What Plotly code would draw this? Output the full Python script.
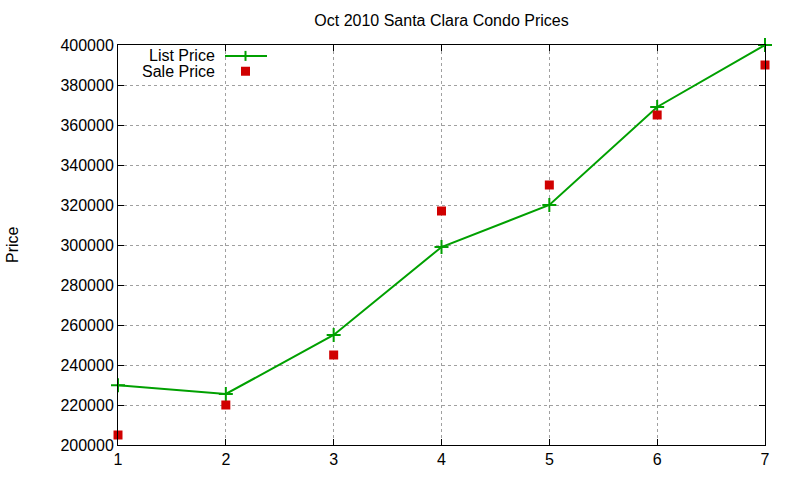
import plotly.graph_objects as go

months = [1, 2, 3, 4, 5, 6, 7]
list_price = [229900, 225500, 255000, 299000, 320000, 369000, 400000]
sale_price = [205000, 220000, 245000, 317000, 330000, 365000, 390000]
y_ticks = [200000, 220000, 240000, 260000, 280000, 300000, 320000, 340000, 360000, 380000, 400000]

GREEN = "#00a000"
RED = "#d00000"
FONT = dict(family="Liberation Sans, Arial, sans-serif", size=16, color="#000000")

FIG_W, FIG_H = 800, 480
L, T, R, B = 118, 45, 35, 31

fig = go.Figure()
fig.add_trace(go.Scatter(
    x=months, y=list_price, mode="lines+markers", name="List Price",
    line=dict(color=GREEN, width=2),
    marker=dict(symbol="cross-thin", size=10, line=dict(color=GREEN, width=2)),
    cliponaxis=False, showlegend=False))
fig.add_trace(go.Scatter(
    x=months, y=sale_price, mode="markers", name="Sale Price",
    marker=dict(symbol="square", size=9, color=RED),
    cliponaxis=False, showlegend=False))

axis_common = dict(
    showline=True, linecolor="black", linewidth=1, mirror="allticks",
    ticks="inside", ticklen=6, tickcolor="black", tickwidth=1,
    showgrid=True, gridcolor="#a0a0a0", gridwidth=1, griddash="3px,3px",
    zeroline=False, tickfont=FONT)

fig.update_xaxes(range=[1, 7], tickvals=months, **axis_common)
fig.update_yaxes(range=[200000, 400000], tickvals=y_ticks, tickformat="d", **axis_common)

# Legend (gnuplot style: text right-aligned, sample on the right), in page pixels
W, H = 800.0 - L - R, 480.0 - T - B
def px(x):
    return (x - L) / W
def py(y):
    return (480 - B - y) / H

annotations = [
    dict(text="List Price", x=px(217), y=py(56), xref="paper", yref="paper",
         xanchor="right", yanchor="middle", showarrow=False, font=FONT),
    dict(text="Sale Price", x=px(217), y=py(71.5), xref="paper", yref="paper",
         xanchor="right", yanchor="middle", showarrow=False, font=FONT),
    dict(text="Price", x=px(12), y=0.5, xref="paper", yref="paper",
         xanchor="center", yanchor="middle", textangle=-90, showarrow=False, font=FONT),
]
shapes = [
    dict(type="line", xref="paper", yref="paper", x0=px(225), x1=px(267), y0=py(56), y1=py(56),
         line=dict(color=GREEN, width=2)),
    dict(type="line", xref="paper", yref="paper", xsizemode="pixel", ysizemode="pixel",
         xanchor=px(245.5), yanchor=py(56), x0=0, x1=0, y0=-5, y1=5,
         line=dict(color=GREEN, width=2)),
    dict(type="rect", xref="paper", yref="paper", xsizemode="pixel", ysizemode="pixel",
         xanchor=px(245.5), yanchor=py(71.5), x0=-4.5, x1=4.5, y0=-4.5, y1=4.5,
         fillcolor=RED, line=dict(width=0)),
]

fig.update_layout(
    width=FIG_W, height=FIG_H,
    margin=dict(l=L, r=R, t=T, b=B),
    paper_bgcolor="white", plot_bgcolor="white",
    font=FONT,
    title=dict(text="Oct 2010 Santa Clara Condo Prices", x=0.5, xref="paper",
               y=1 - 20 / FIG_H, yref="container", yanchor="middle", font=FONT),
    annotations=annotations, shapes=shapes, showlegend=False,
)

fig.write_html("out.html", config={"displayModeBar": False},
               post_script="document.body.style.margin='0';document.body.style.overflow='hidden';")
